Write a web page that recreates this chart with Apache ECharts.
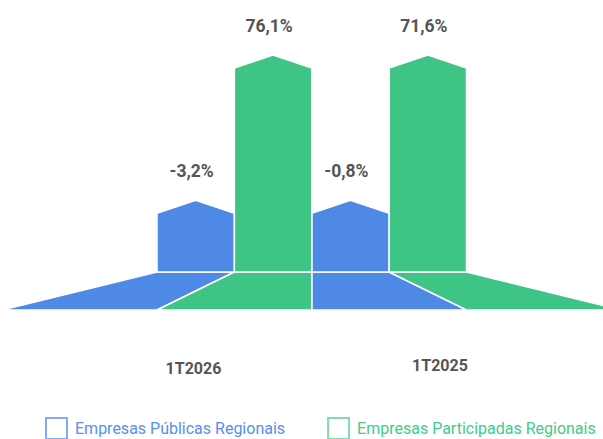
<!DOCTYPE html>
<html>
<head>
<meta charset="utf-8">
<script src="https://cdn.jsdelivr.net/npm/echarts@6/dist/echarts.min.js"></script>
<style>html,body{margin:0;padding:0;background:#fff}#c{width:603px;height:439px}</style>
</head>
<body>
<div id="c"></div>
<script>
// Categories (periods)
var categories = ['1T2026', '1T2025'];
// Values shown in the labels (%)
var valoresPublicas = [-3.2, -0.8];
var valoresParticipadas = [76.1, 71.6];
// Displayed bar heights (relative scale 0-100)
var alturaPublicas = [33, 33];
var alturaParticipadas = [100, 100];
// Series names
var seriesNames = ['Empresas Públicas Regionais', 'Empresas Participadas Regionais'];

var colors = ['#4e89e6', '#3ec585'];
var legendText = ['#5590ee', '#42cc88'];
var legendBorder = ['#82abf5', '#7edcae'];

function fmt(v) { return v.toFixed(1).replace('.', ',') + '%'; }

function makeRender(side, labels) {
  return function (params, api) {
    var idx = api.value(0);
    var h = api.value(1);
    var base = api.coord([idx, 0]);
    var top = api.coord([idx, h]);
    var band = api.size([1, 0])[0];
    var w = band / 2;
    var xL = side === 0 ? base[0] - w : base[0];
    var xR = xL + w;
    var y0 = base[1];
    var yTop = top[1];
    var shoulder = 13;
    var c = (api.coord([0, 0])[0] + api.coord([categories.length - 1, 0])[0]) / 2;
    var k = 2.0;
    var depth = 38;
    var col = api.visual('color');
    return {
      type: 'group',
      children: [
        {
          type: 'polygon',
          shape: { points: [[xL, y0], [xR, y0], [c + k * (xR - c), y0 + depth], [c + k * (xL - c), y0 + depth]] },
          style: { fill: col, stroke: '#fff', lineWidth: 1.5 }
        },
        {
          type: 'polygon',
          shape: { points: [[xL, y0], [xL, yTop + shoulder], [(xL + xR) / 2, yTop], [xR, yTop + shoulder], [xR, y0]] },
          style: { fill: col, stroke: '#fff', lineWidth: 1.5 }
        },
        {
          type: 'text',
          style: {
            text: fmt(labels[idx]),
            x: (xL + xR) / 2 - 4,
            y: yTop - 29,
            align: 'center',
            verticalAlign: 'middle',
            font: 'bold 17.5px Roboto',
            fill: '#555555'
          }
        }
      ]
    };
  };
}

var chart = echarts.init(document.getElementById('c'), null, { renderer: 'svg' });
chart.setOption({
  animation: false,
  backgroundColor: '#fff',
  grid: [
    { left: 157, right: 136.5, top: 55, bottom: 167 },
    { left: 70.25, right: 39.75, top: 100, bottom: 84 }
  ],
  xAxis: [
    { type: 'category', data: categories, gridIndex: 0, show: false },
    {
      type: 'category', data: categories, gridIndex: 1,
      axisLine: { show: false }, axisTick: { show: false },
      axisLabel: {
        margin: 2,
        formatter: function (v, i) { return i === 0 ? '{a|' + v + '}' : '{b|' + v + '}'; },
        rich: {
          a: { fontFamily: 'Roboto', fontWeight: 'bold', fontSize: 16, color: '#555555', padding: [3, 0, 0, 0] },
          b: { fontFamily: 'Roboto', fontWeight: 'bold', fontSize: 16, color: '#555555', padding: [0, 0, 3, 0] }
        }
      }
    }
  ],
  yAxis: [
    { type: 'value', min: 0, max: 100, gridIndex: 0, show: false },
    { type: 'value', gridIndex: 1, show: false }
  ],
  legend: {
    left: 45,
    top: 417,
    width: 570,
    padding: [0, 0, 0, 0],
    itemWidth: 21,
    itemHeight: 21,
    itemGap: 42,
    textStyle: { fontFamily: 'Roboto', fontSize: 16, padding: [0, 0, 0, 3] },
    data: [
      { name: seriesNames[0], icon: 'rect', itemStyle: { color: '#fff', borderColor: legendBorder[0], borderWidth: 2 }, textStyle: { color: legendText[0] } },
      { name: seriesNames[1], icon: 'rect', itemStyle: { color: '#fff', borderColor: legendBorder[1], borderWidth: 2 }, textStyle: { color: legendText[1] } }
    ]
  },
  series: [
    {
      name: seriesNames[0], type: 'custom', xAxisIndex: 0, yAxisIndex: 0,
      itemStyle: { color: colors[0] },
      renderItem: makeRender(0, valoresPublicas),
      data: alturaPublicas.map(function (v, i) { return [i, v]; })
    },
    {
      name: seriesNames[1], type: 'custom', xAxisIndex: 0, yAxisIndex: 0,
      itemStyle: { color: colors[1] },
      renderItem: makeRender(1, valoresParticipadas),
      data: alturaParticipadas.map(function (v, i) { return [i, v]; })
    }
  ]
});
</script>
</body>
</html>
